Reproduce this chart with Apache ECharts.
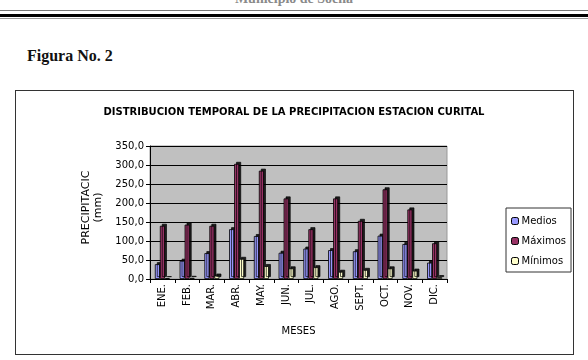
<!DOCTYPE html>
<html>
<head>
<meta charset="utf-8">
<script src="https://cdn.jsdelivr.net/npm/echarts@6/dist/echarts.min.js"></script>
<style>
    body { margin: 0; background: #fff; }
    .page { position: relative; width: 588px; height: 360px; overflow: hidden; }
    .muni {
        position: absolute; left: 0; width: 588px; top: -9px;
        text-align: center; font: bold 14px "Liberation Serif", serif; color: #8a8a8a;
    }
    .l1 { position: absolute; left: 0; width: 588px; top: 10px; height: 1px; background: #777; }
    .l2 { position: absolute; left: 0; width: 588px; top: 14px; height: 3px; background: #000; }
    .l3 { position: absolute; left: 0; width: 588px; top: 18px; height: 1px; background: #999; }
    .fig {
        position: absolute; left: 27px; top: 47px;
        font: bold 16px "Liberation Serif", serif; color: #111;
    }
    .box {
        position: absolute; left: 15px; top: 90px; width: 557px; height: 263px;
        border: 1.5px solid #333;
    }
    #myChart { position: absolute; left: 0; top: 0; width: 588px; height: 360px; }
</style>
</head>
<body>
<div class="page">
    <div class="muni">Municipio de Socha</div>
    <div class="l1"></div>
    <div class="l2"></div>
    <div class="l3"></div>
    <div class="fig">Figura No. 2</div>
    <div class="box"></div>
    <div id="myChart"></div>
</div>
<script>
    // meses y valores de precipitacion (mm)
    let meses = ['ENE.', 'FEB.', 'MAR.', 'ABR.', 'MAY.', 'JUN.', 'JUL.', 'AGO.', 'SEPT.', 'OCT.', 'NOV.', 'DIC.'];
    let medios = [39, 48, 68, 131, 113, 69, 80, 76, 73, 114, 92, 43];
    let maximos = [140, 143, 140, 303, 285, 212, 131, 212, 153, 236, 183, 94];
    let minimos = [2, 3, 9, 53, 34, 28, 31, 19, 24, 28, 22, 5];

    let font = '"DejaVu Sans", sans-serif';

    function barra(name, color, data) {
        return {
            name: name,
            type: 'bar',
            barWidth: 5,
            barGap: '0%',
            itemStyle: {
                color: color,
                borderColor: '#000',
                borderWidth: 0.8,
                shadowColor: 'rgba(0,0,0,0.85)',
                shadowOffsetX: 2,
                shadowOffsetY: -2,
                shadowBlur: 0
            },
            data: data
        };
    }

    let option = {
        animation: false,
        textStyle: { fontFamily: font },
        title: {
            text: 'DISTRIBUCION TEMPORAL DE LA PRECIPITACION ESTACION CURITAL',
            left: 'center',
            top: 102,
            textStyle: { fontFamily: font, fontSize: 10, fontWeight: 'bold', color: '#000' }
        },
        legend: {
            orient: 'vertical',
            left: 506,
            top: 208,
            padding: [8, 5, 6, 5],
            itemGap: 10,
            itemWidth: 7,
            itemHeight: 7,
            borderColor: '#333',
            borderWidth: 1,
            textStyle: { fontFamily: font, fontSize: 10, color: '#000', padding: [0, 0, 0, -2] },
            data: [
                { name: 'Medios', itemStyle: { borderColor: '#000', borderWidth: 1 } },
                { name: 'Máximos', itemStyle: { borderColor: '#000', borderWidth: 1 } },
                { name: 'Mínimos', itemStyle: { borderColor: '#000', borderWidth: 1 } }
            ]
        },
        grid: {
            left: 150,
            right: 141,
            top: 146,
            bottom: 81,
            show: true,
            backgroundColor: '#c0c0c0',
            borderColor: '#999',
            borderWidth: 1
        },
        xAxis: {
            type: 'category',
            data: meses,
            name: 'MESES',
            nameLocation: 'middle',
            nameGap: 47,
            nameTextStyle: { fontSize: 10, color: '#000' },
            axisLine: { lineStyle: { color: '#000', width: 1 } },
            axisTick: { show: true, length: 4, lineStyle: { color: '#000' } },
            axisLabel: { rotate: 90, fontSize: 10, color: '#000', margin: 5 }
        },
        yAxis: {
            type: 'value',
            min: 0,
            max: 350,
            interval: 50,
            name: 'PRECIPITACIC\n(mm)',
            nameLocation: 'middle',
            nameGap: 46,
            nameRotate: 90,
            nameTextStyle: { fontSize: 11, color: '#000', lineHeight: 12, padding: [0, 0, 0, 10] },
            axisLine: { show: true, lineStyle: { color: '#000', width: 1 } },
            axisTick: { show: true, length: 4, lineStyle: { color: '#000' } },
            axisLabel: {
                fontSize: 10,
                color: '#000',
                margin: 6,
                formatter: function(v) {
                    return v.toFixed(1).replace('.', ',');
                }
            },
            splitLine: { lineStyle: { color: '#000', width: 1 } }
        },
        series: [
            barra('Medios', '#9999ff', medios),
            barra('Máximos', '#993366', maximos),
            barra('Mínimos', '#ffffcc', minimos)
        ]
    };

    let myChart = echarts.init(document.getElementById('myChart'));
    myChart.setOption(option);
</script>
</body>
</html>
